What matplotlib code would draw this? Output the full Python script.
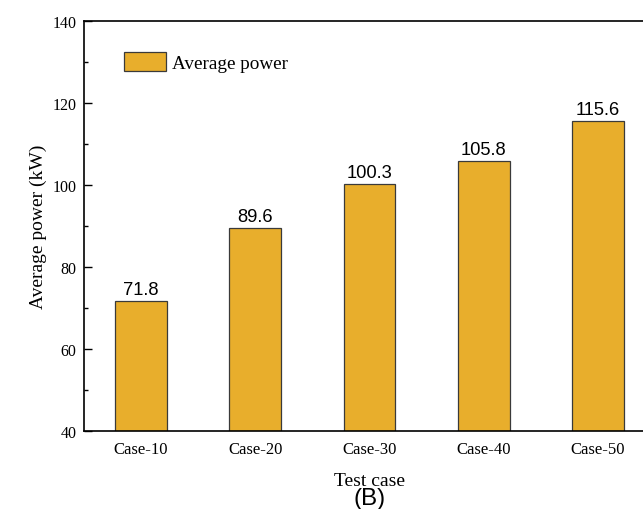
import numpy as np
import matplotlib.pyplot as plt
from matplotlib.ticker import MultipleLocator

cases = ['Case-10', 'Case-20', 'Case-30', 'Case-40', 'Case-50']
avg_power = [71.8, 89.6, 100.3, 105.8, 115.6]

serif = ['Liberation Serif', 'DejaVu Serif']
sans = ['Liberation Sans', 'DejaVu Sans']

fig = plt.figure(figsize=(6.43, 5.10), dpi=100)
# axes runs a little past the right edge, as in the cropped original
ax = fig.add_axes([84 / 643, 1 - 432 / 510, 571 / 643, 410 / 510])

x = np.arange(len(cases))
bars = ax.bar(x, avg_power, width=0.455, color='#E8AE2C', edgecolor='#3a3a3a',
              linewidth=0.9, label='Average power', zorder=2)

for xi, v in zip(x, avg_power):
    ax.annotate(f'{v:.1f}', (xi, v), xytext=(0, 2), textcoords='offset points',
                ha='center', va='bottom', fontsize=13.2, family=sans)

ax.set_xlim(-0.5, 4.5)
ax.set_ylim(40, 140)
ax.set_xticks(x)
ax.set_xticklabels(cases, family=serif, fontsize=12)
ax.yaxis.set_major_locator(MultipleLocator(20))
ax.yaxis.set_minor_locator(MultipleLocator(10))
for lab in ax.get_yticklabels():
    lab.set_family(serif)
    lab.set_fontsize(11.5)

ax.tick_params(axis='x', length=0, pad=7)
ax.tick_params(axis='y', which='major', direction='in', length=5.5, width=1.0, pad=5.5)
ax.tick_params(axis='y', which='minor', direction='in', length=3, width=1.0)

for s in ['left', 'bottom', 'top']:
    ax.spines[s].set_linewidth(1.2)
ax.spines['right'].set_visible(False)

ax.set_xlabel('Test case', family=serif, fontsize=14, labelpad=11)
ax.set_ylabel('Average power (kW)', family=serif, fontsize=14, labelpad=4)

ax.legend(loc='upper left', bbox_to_anchor=(0.07, 0.925), frameon=False,
          borderpad=0, borderaxespad=0, handlelength=2.2, handleheight=1.15,
          handletextpad=0.3, prop={'family': serif, 'size': 13.8})

fig.text(370 / 643, 1 - 499 / 510, '(B)', ha='center', va='center',
         fontsize=17.5, family=sans)

fig.savefig('out.png', dpi=100)
